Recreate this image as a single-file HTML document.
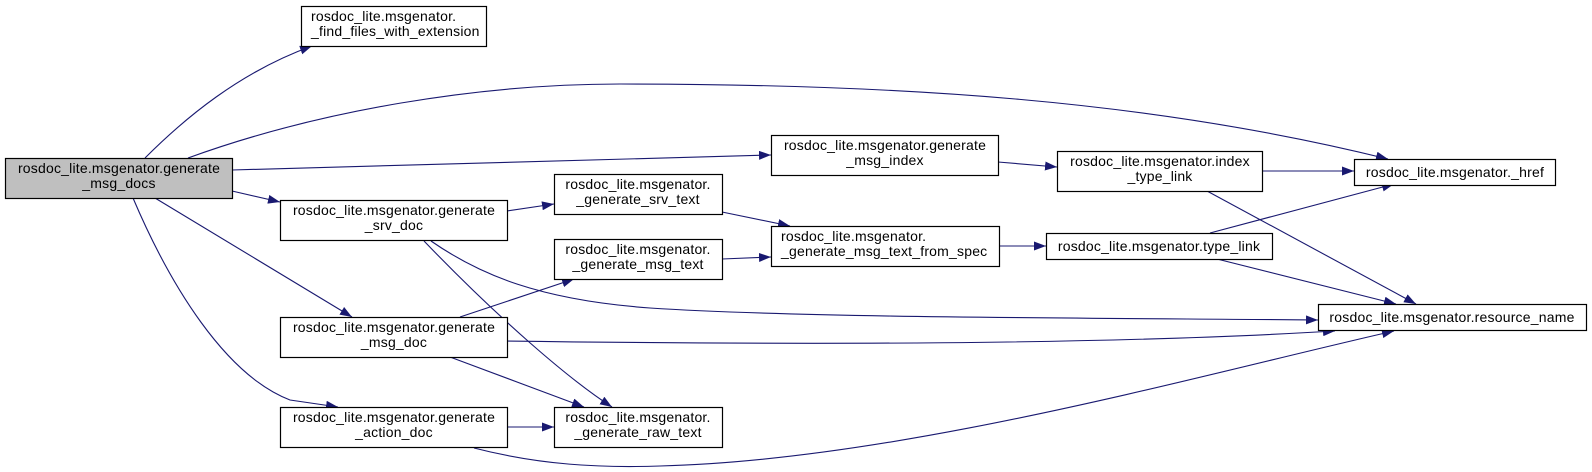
<!DOCTYPE html>
<html><head><meta charset="utf-8">
<style>
html,body{margin:0;padding:0;background:#fff;}
svg{display:block;}
text{font-family:"Liberation Sans",Helvetica,sans-serif;font-size:14px;letter-spacing:0.2px;fill:#000;}
.b{fill:#fff;stroke:#000;stroke-width:1.2;}
.g{fill:#bfbfbf;stroke:#000;stroke-width:1.2;}
.e{fill:none;stroke:#191970;stroke-width:1.1;marker-end:url(#a);}
</style></head><body>
<svg width="1592" height="472" viewBox="0 0 1592 472" xmlns="http://www.w3.org/2000/svg">
<defs>
<marker id="a" viewBox="0 0 12 9" refX="12" refY="4.5" markerWidth="12" markerHeight="9" markerUnits="userSpaceOnUse" orient="auto">
<path d="M0,0 L12,4.5 L0,9 z" fill="#191970"/>
</marker>
</defs>

<path class="e" d="M145,158 C185,118 240,72 312,46"/>
<path class="e" d="M188,158 C320,110 480,84 620,84 C900,84 1150,100 1388,159"/>
<path class="e" d="M232,170 L771,155"/>
<path class="e" d="M232,191 L280,202"/>
<path class="e" d="M155,198 L352,317"/>
<path class="e" d="M133,198 C170,285 225,375 290,400 L338,407"/>
<path class="e" d="M507,211 L554,204"/>
<path class="e" d="M424,241 C500,320 570,380 612,407"/>
<path class="e" d="M431,241 C480,275 540,300 650,308 C800,318 1100,318 1318,320"/>
<path class="e" d="M507,341 C800,345 1100,345 1335,331"/>
<path class="e" d="M474,448 C540,465 600,468 660,466 C900,460 1200,375 1394,331"/>
<path class="e" d="M460,317 L574,279"/>
<path class="e" d="M450,357 L584,407"/>
<path class="e" d="M507,427 L554,427"/>
<path class="e" d="M722,212 L790,226"/>
<path class="e" d="M722,259 L771,257"/>
<path class="e" d="M998,162 L1057,167"/>
<path class="e" d="M1262,171 L1354,171"/>
<path class="e" d="M1207,191 L1416,304"/>
<path class="e" d="M999,246 L1046,246"/>
<path class="e" d="M1210,233 L1394,184"/>
<path class="e" d="M1213,258 L1396,304"/>

<rect class="g" x="5.5" y="158.5" width="227" height="40"/>
<text x="119" y="173" text-anchor="middle">rosdoc_lite.msgenator.generate</text>
<text x="119" y="188" text-anchor="middle">_msg_docs</text>

<rect class="b" x="301.5" y="6.5" width="185" height="40"/>
<text x="311" y="21">rosdoc_lite.msgenator.</text>
<text x="311" y="36">_find_files_with_extension</text>

<rect class="b" x="280.5" y="200.5" width="227" height="40"/>
<text x="394" y="215" text-anchor="middle">rosdoc_lite.msgenator.generate</text>
<text x="394" y="230" text-anchor="middle">_srv_doc</text>

<rect class="b" x="280.5" y="317.5" width="227" height="40"/>
<text x="394" y="332" text-anchor="middle">rosdoc_lite.msgenator.generate</text>
<text x="394" y="347" text-anchor="middle">_msg_doc</text>

<rect class="b" x="280.5" y="407.5" width="227" height="40"/>
<text x="394" y="422" text-anchor="middle">rosdoc_lite.msgenator.generate</text>
<text x="394" y="437" text-anchor="middle">_action_doc</text>

<rect class="b" x="554.5" y="174.5" width="168" height="40"/>
<text x="638" y="189" text-anchor="middle">rosdoc_lite.msgenator.</text>
<text x="638" y="204" text-anchor="middle">_generate_srv_text</text>

<rect class="b" x="554.5" y="239.5" width="168" height="40"/>
<text x="638" y="254" text-anchor="middle">rosdoc_lite.msgenator.</text>
<text x="638" y="269" text-anchor="middle">_generate_msg_text</text>

<rect class="b" x="554.5" y="407.5" width="168" height="40"/>
<text x="638" y="422" text-anchor="middle">rosdoc_lite.msgenator.</text>
<text x="638" y="437" text-anchor="middle">_generate_raw_text</text>

<rect class="b" x="771.5" y="135.5" width="227" height="40"/>
<text x="885" y="150" text-anchor="middle">rosdoc_lite.msgenator.generate</text>
<text x="885" y="165" text-anchor="middle">_msg_index</text>

<rect class="b" x="771.5" y="226.5" width="228" height="40"/>
<text x="781" y="241">rosdoc_lite.msgenator.</text>
<text x="781" y="256">_generate_msg_text_from_spec</text>

<rect class="b" x="1057.5" y="151.5" width="205" height="40"/>
<text x="1160" y="166" text-anchor="middle">rosdoc_lite.msgenator.index</text>
<text x="1160" y="181" text-anchor="middle">_type_link</text>

<rect class="b" x="1046.5" y="233.5" width="226" height="26"/>
<text x="1159" y="251" text-anchor="middle">rosdoc_lite.msgenator.type_link</text>

<rect class="b" x="1354.5" y="159.5" width="201" height="26"/>
<text x="1455" y="177" text-anchor="middle">rosdoc_lite.msgenator._href</text>

<rect class="b" x="1318.5" y="304.5" width="268" height="26"/>
<text x="1452" y="322" text-anchor="middle">rosdoc_lite.msgenator.resource_name</text>
</svg>
</body></html>
